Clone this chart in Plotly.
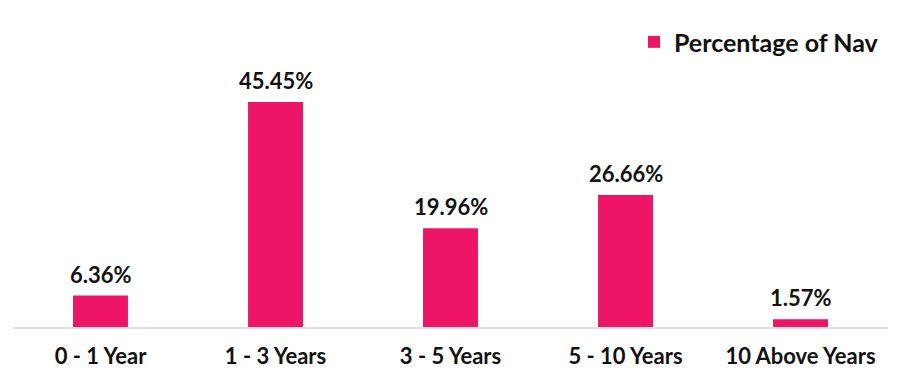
import plotly.graph_objects as go

categories = ["0 - 1 Year", "1 - 3 Years", "3 - 5 Years", "5 - 10 Years", "10 Above Years"]
values = [6.36, 45.45, 19.96, 26.66, 1.57]
labels = [f"{v:.2f}%" for v in values]
series_name = "Percentage of Nav"

BAR = "#EE1566"
TXT = "#111111"

fig = go.Figure()
fig.add_trace(go.Bar(
    x=categories, y=values, name=series_name,
    marker=dict(color=BAR, line=dict(width=0)),
    showlegend=True,
))

for c, v, t in zip(categories, values, labels):
    fig.add_annotation(x=c, y=v, text=t, showarrow=False, yanchor="bottom",
                       yshift=6, font=dict(family="Lato", size=22, color=TXT, weight=700))

fig.update_layout(
    width=900, height=385,
    margin=dict(l=13, r=12, t=20, b=58),
    paper_bgcolor="white", plot_bgcolor="white",
    bargap=0.686,
    font=dict(family="Lato", size=22, color=TXT, weight=700),
    legend=dict(x=0.9954, y=0.928, xanchor="right", yanchor="middle",
                font=dict(family="Lato", size=25, color=TXT, weight=700),
                itemwidth=30, bgcolor="rgba(0,0,0,0)"),
    xaxis=dict(showgrid=False, showline=True, linecolor="#e0e0e0", linewidth=2,
               ticks="", ticklabelstandoff=9, automargin=False,
               tickfont=dict(family="Lato", size=22, color=TXT, weight=700)),
    yaxis=dict(range=[0, 62], visible=False, showgrid=False, zeroline=False),
)

fig.write_html("out.html", config={"displayModeBar": False},
               post_script="document.body.style.margin='0';")
